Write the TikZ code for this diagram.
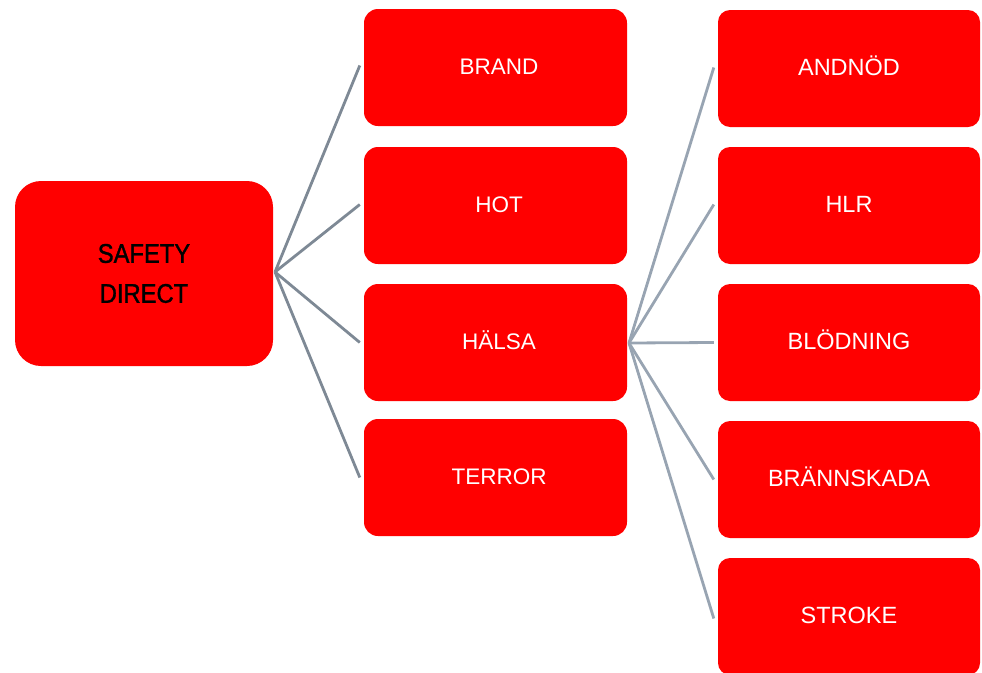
\documentclass[tikz,border=0pt]{standalone}
\usepackage{fontspec}
\setmainfont{Liberation Sans}
\newfontfamily\rootfont[FakeStretch=0.88,FakeBold=1.2]{Liberation Sans}
\definecolor{boxred}{HTML}{FF0000}
\definecolor{lineA}{HTML}{7E8995}
\definecolor{lineB}{HTML}{98A4B2}
\begin{document}
\begin{tikzpicture}[x=1pt,y=-1pt,
  rootbox/.style={fill=boxred,rounded corners=26pt,minimum width=258pt,minimum height=185pt,inner sep=0pt,align=center,font=\rootfont\fontsize{27}{40}\selectfont,text=black},
  midbox/.style={fill=boxred,rounded corners=14pt,minimum width=263pt,minimum height=117pt,inner sep=0pt,font=\fontsize{22.5}{27}\selectfont,text=white,text height=16.5pt,text depth=2.5pt,execute at begin node={\hspace*{7pt}}},
  rightbox/.style={fill=boxred,rounded corners=12pt,minimum width=262pt,minimum height=117pt,inner sep=0pt,font=\fontsize{23.5}{28}\selectfont,text=white,text height=17pt,text depth=3pt},
  conA/.style={draw=lineA,line width=2.8pt},
  conB/.style={draw=lineB,line width=2.8pt}]
\useasboundingbox (0,0) rectangle (982,672);
\node[rootbox] (root) at (144,273.5) {SAFETY\\DIRECT};
\node[midbox] (brand) at (495.5,67.5) {BRAND};
\node[midbox] (hot) at (495.5,205.5) {HOT};
\node[midbox] (halsa) at (495.5,342.5) {HÄLSA};
\node[midbox] (terror) at (495.5,477.5) {TERROR};
\node[rightbox] (andnod) at (849,68.5) {ANDNÖD};
\node[rightbox] (hlr) at (849,205.5) {HLR};
\node[rightbox] (blodning) at (849,342.5) {BLÖDNING};
\node[rightbox] (branns) at (849,479.5) {BRÄNNSKADA};
\node[rightbox] (stroke) at (849,616.5) {STROKE};
\coordinate (rA) at (275,272);
\coordinate (hA) at (629,343);
\draw[conA] (rA) -- ([xshift=-4pt,yshift=2pt]brand.west);
\draw[conA] (rA) -- ([xshift=-4pt,yshift=1pt]hot.west);
\draw[conA] (rA) -- ([xshift=-4pt]halsa.west);
\draw[conA] (rA) -- ([xshift=-4pt]terror.west);
\draw[conB] (hA) -- ([xshift=-4pt,yshift=1pt]andnod.west);
\draw[conB] (hA) -- ([xshift=-4pt,yshift=1pt]hlr.west);
\draw[conB] (hA) -- ([xshift=-4pt]blodning.west);
\draw[conB] (hA) -- ([xshift=-4pt]branns.west);
\draw[conB] (hA) -- ([xshift=-4pt,yshift=-2pt]stroke.west);
\end{tikzpicture}
\end{document}
